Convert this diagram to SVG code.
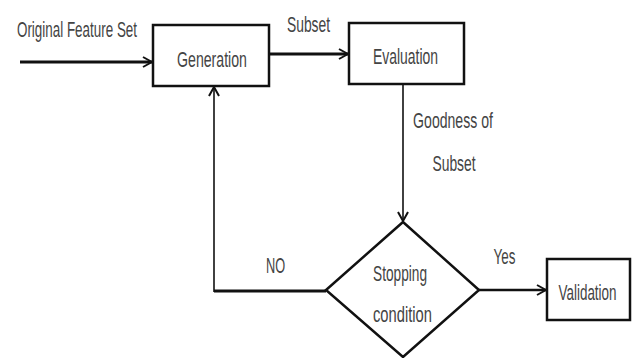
<svg xmlns="http://www.w3.org/2000/svg" width="634" height="358" viewBox="0 0 634 358">
<style>
.box{fill:#fff;stroke:#111;stroke-width:2.5}
.t{font-family:"Liberation Sans",Arial,sans-serif;font-size:22px;fill:#444;text-anchor:middle}
.c{fill:none;stroke:#111}
</style>
<defs>
<marker id="ah" viewBox="0 0 12 12" refX="11" refY="6" markerWidth="12" markerHeight="12" markerUnits="userSpaceOnUse" orient="auto">
<path d="M2,1 L11,6 L2,11" fill="none" stroke="#111" stroke-width="2"/>
</marker>
</defs>
<rect width="634" height="358" fill="#fff"/>
<g id="connectors">
<line class="c" x1="20" y1="62" x2="152" y2="62" stroke-width="3" marker-end="url(#ah)"/>
<line class="c" x1="269" y1="54" x2="348" y2="54" stroke-width="3" marker-end="url(#ah)"/>
<line class="c" x1="403" y1="84" x2="403" y2="221" stroke-width="1.6" marker-end="url(#ah)"/>
<polyline class="c" points="326,291 214,291" stroke-width="3"/>
<line class="c" x1="214" y1="292" x2="214" y2="87" stroke-width="1.6" marker-end="url(#ah)"/>
<line class="c" x1="479" y1="290" x2="546" y2="290" stroke-width="2.5" marker-end="url(#ah)"/>
<text class="t" transform="translate(77,37) scale(0.61,1)">Original Feature Set</text>
<text class="t" transform="translate(308.5,32) scale(0.63,1)">Subset</text>
<text class="t" transform="translate(453,128) scale(0.64,1)">Goodness of</text>
<text class="t" transform="translate(454,171) scale(0.63,1)">Subset</text>
<text class="t" transform="translate(275.5,273) scale(0.58,1)">NO</text>
<text class="t" transform="translate(504.5,264) scale(0.61,1)">Yes</text>
</g>
<g id="generation">
<rect class="box" x="153" y="25" width="116" height="61"/>
<text class="t" transform="translate(212,67) scale(0.643,1)">Generation</text>
</g>
<g id="evaluation">
<rect class="box" x="349" y="23" width="115" height="61"/>
<text class="t" transform="translate(405.5,64) scale(0.633,1)">Evaluation</text>
</g>
<g id="stopping">
<polygon class="box" points="403,222 479,290 403,357 326,290"/>
<text class="t" transform="translate(400,281) scale(0.622,1)">Stopping</text>
<text class="t" transform="translate(402.5,322) scale(0.67,1)">condition</text>
</g>
<g id="validation">
<rect class="box" x="547" y="259" width="83" height="61"/>
<text class="t" transform="translate(587.5,300) scale(0.611,1)">Validation</text>
</g>
</svg>
